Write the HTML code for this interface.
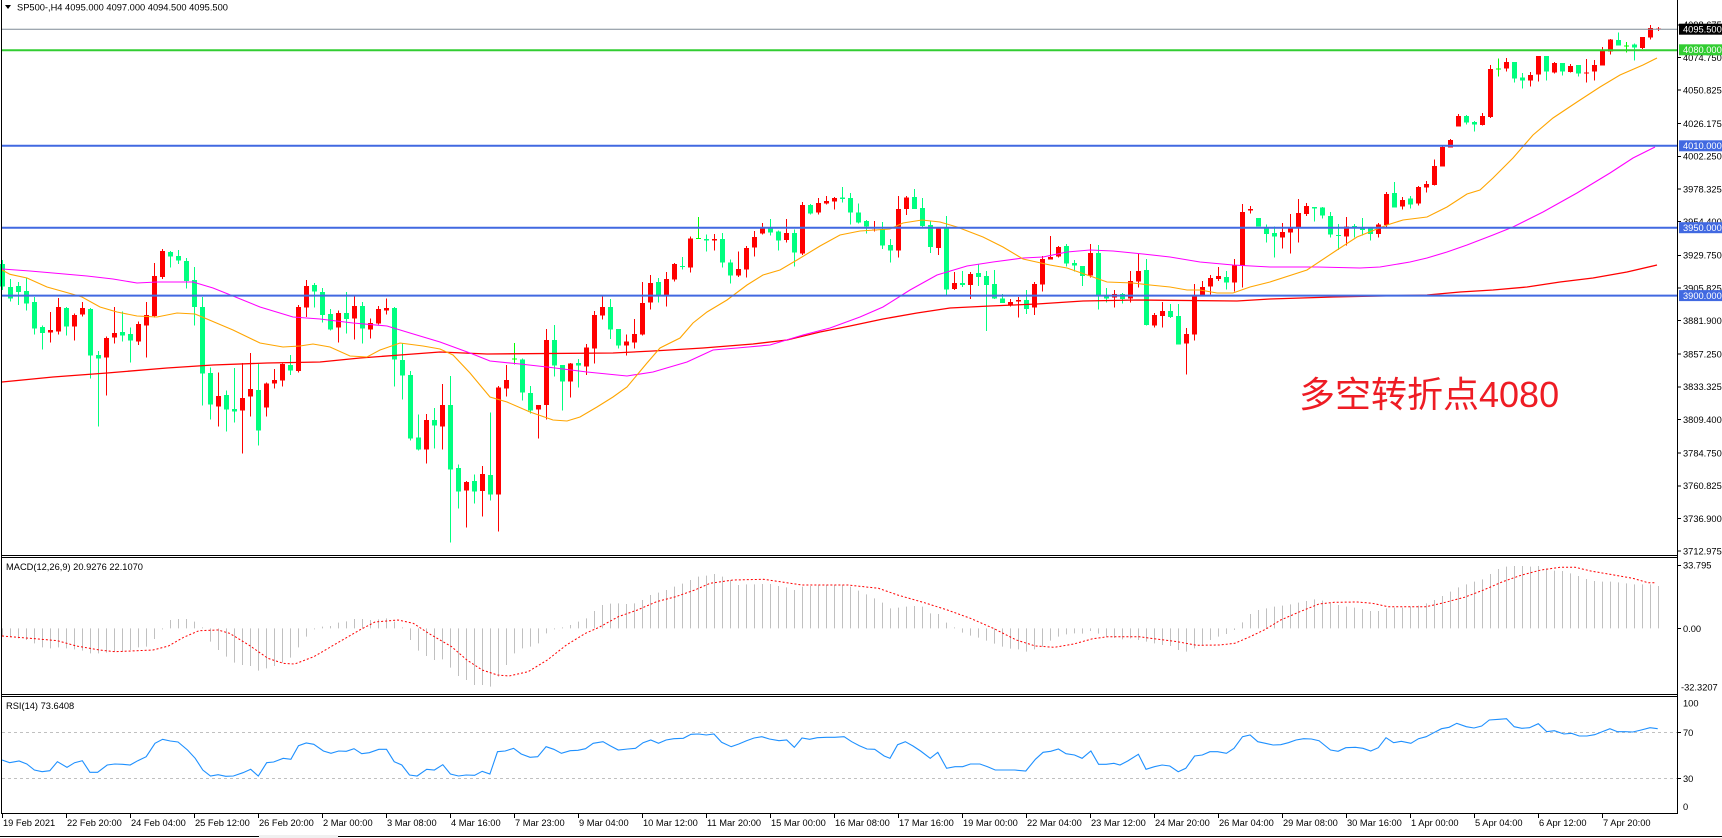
<!DOCTYPE html>
<html><head><meta charset="utf-8"><style>html,body{margin:0;padding:0;background:#fff;}svg{display:block;}</style></head>
<body>
<svg xmlns="http://www.w3.org/2000/svg" width="1722" height="838" viewBox="0 0 1722 838" font-family="'Liberation Sans', sans-serif" font-size="9.3">
<rect x="0" y="0" width="1722" height="838" fill="#fff"/>

<!-- header -->
<polygon points="5,5 11,5 8,9" fill="#000"/>
<text x="17" y="10.3" fill="#000">SP500-,H4  4095.000 4097.000 4094.500 4095.500</text>

<!-- candles group A (bars 0-52) -->
<g transform="translate(0,180) scale(1,0.333333)" shape-rendering="crispEdges">
<path fill="#00FF7F" d="M0 252h5V320h-5Z M2 240h1V330h-1Z M8 321h5V356h-5Z M10 297h1V365h-1Z M16 318h5V336h-5Z M18 306h1V375h-1Z M24 333h5V371h-5Z M26 292h1V392h-1Z M32 366h5V446h-5Z M34 351h1V463h-1Z M40 441h5V459h-5Z M42 436h1V509h-1Z M64 384h5V440h-5Z M66 381h1V467h-1Z M88 387h5V527h-5Z M90 384h1V596h-1Z M96 525h5V536h-5Z M98 513h1V740h-1Z M120 456h5V467h-5Z M122 394h1V485h-1Z M128 462h5V482h-5Z M130 442h1V548h-1Z M168 216h5V230h-5Z M170 213h1V263h-1Z M176 228h5V242h-5Z M178 210h1V252h-1Z M184 243h5V303h-5Z M186 234h1V326h-1Z M192 300h5V381h-5Z M194 261h1V437h-1Z M200 381h5V581h-5Z M202 351h1V677h-1Z M208 579h5V674h-5Z M210 563h1V719h-1Z M224 645h5V689h-5Z M226 632h1V755h-1Z M232 687h5V695h-5Z M234 564h1V728h-1Z M256 630h5V752h-5Z M258 552h1V797h-1Z M288 555h5V572h-5Z M290 525h1V585h-1Z M312 315h5V335h-5Z M314 309h1V383h-1Z M320 336h5V405h-5Z M322 324h1V428h-1Z M328 402h5V449h-5Z M330 387h1V452h-1Z M344 399h5V417h-5Z M346 336h1V461h-1Z M360 378h5V446h-5Z M362 366h1V491h-1Z M392 384h5V539h-5Z M394 381h1V620h-1Z M400 540h5V587h-5Z M402 489h1V659h-1Z M408 585h5V776h-5Z M410 573h1V782h-1Z M416 773h5V809h-5Z M418 704h1V812h-1Z"/>
<path fill="#FF0000" d="M48 450h5V458h-5Z M50 396h1V488h-1Z M56 381h5V455h-5Z M58 354h1V464h-1Z M72 405h5V440h-5Z M74 400h1V482h-1Z M80 384h5V404h-5Z M82 366h1V410h-1Z M104 474h5V533h-5Z M106 470h1V647h-1Z M112 459h5V473h-5Z M114 381h1V491h-1Z M136 432h5V485h-5Z M138 425h1V495h-1Z M144 405h5V437h-5Z M146 366h1V533h-1Z M152 288h5V408h-5Z M154 249h1V412h-1Z M160 213h5V291h-5Z M162 207h1V297h-1Z M216 648h5V680h-5Z M218 578h1V740h-1Z M240 654h5V692h-5Z M242 549h1V821h-1Z M248 627h5V650h-5Z M250 519h1V710h-1Z M264 611h5V683h-5Z M266 608h1V710h-1Z M272 600h5V611h-5Z M274 567h1V626h-1Z M280 552h5V602h-5Z M282 550h1V620h-1Z M296 381h5V573h-5Z M298 375h1V578h-1Z M304 318h5V383h-5Z M306 300h1V411h-1Z M336 399h5V443h-5Z M338 392h1V488h-1Z M352 378h5V416h-5Z M354 350h1V479h-1Z M368 429h5V449h-5Z M370 416h1V476h-1Z M376 387h5V431h-5Z M378 378h1V434h-1Z M384 384h5V392h-5Z M386 356h1V404h-1Z"/>
</g>

<!-- candles group B (bars 53-157) -->
<g transform="translate(0,160) scale(1,0.333333)" shape-rendering="crispEdges">
<path fill="#00FF7F" d="M432 780h5V797h-5Z M434 744h1V866h-1Z M448 735h5V929h-5Z M450 648h1V1148h-1Z M456 924h5V995h-5Z M458 914h1V1046h-1Z M472 963h5V995h-5Z M474 944h1V1031h-1Z M488 945h5V1004h-5Z M490 758h1V1022h-1Z M520 599h5V698h-5Z M522 595h1V722h-1Z M528 699h5V752h-5Z M530 678h1V760h-1Z M552 540h5V617h-5Z M554 495h1V650h-1Z M560 615h5V665h-5Z M562 615h1V752h-1Z M576 609h5V617h-5Z M578 597h1V683h-1Z M608 441h5V509h-5Z M610 417h1V537h-1Z M616 507h5V557h-5Z M618 507h1V566h-1Z M656 366h5V406h-5Z M658 354h1V428h-1Z M680 318h5V321h-5Z M682 291h1V329h-1Z M704 237h5V242h-5Z M706 224h1V275h-1Z M720 237h5V308h-5Z M722 219h1V323h-1Z M728 308h5V347h-5Z M730 299h1V371h-1Z M768 206h5V218h-5Z M770 177h1V227h-1Z M776 215h5V242h-5Z M778 212h1V272h-1Z M792 219h5V278h-5Z M794 209h1V320h-1Z M808 135h5V160h-5Z M810 132h1V164h-1Z M840 112h5V117h-5Z M842 81h1V128h-1Z M848 114h5V158h-5Z M850 99h1V194h-1Z M856 158h5V188h-5Z M858 131h1V190h-1Z M864 183h5V200h-5Z M866 180h1V221h-1Z M880 207h5V257h-5Z M882 186h1V267h-1Z M888 255h5V272h-5Z M890 237h1V308h-1Z M912 111h5V147h-5Z M914 87h1V147h-1Z M920 144h5V198h-5Z M922 114h1V201h-1Z M928 195h5V261h-5Z M930 183h1V279h-1Z M944 205h5V389h-5Z M946 168h1V407h-1Z M960 369h5V375h-5Z M962 333h1V381h-1Z M976 339h5V351h-5Z M978 312h1V378h-1Z M984 348h5V375h-5Z M986 333h1V513h-1Z M992 372h5V416h-5Z M994 330h1V417h-1Z M1000 416h5V429h-5Z M1002 402h1V429h-1Z M1024 420h5V447h-5Z M1026 390h1V462h-1Z M1064 258h5V311h-5Z M1066 252h1V320h-1Z M1072 309h5V317h-5Z M1074 300h1V335h-1Z M1080 318h5V348h-5Z M1082 318h1V378h-1Z M1096 279h5V407h-5Z M1098 255h1V449h-1Z M1104 408h5V416h-5Z M1106 384h1V428h-1Z M1120 402h5V417h-5Z M1122 399h1V431h-1Z M1144 330h5V495h-5Z M1146 297h1V497h-1Z M1168 453h5V471h-5Z M1170 432h1V474h-1Z M1176 468h5V554h-5Z M1178 432h1V554h-1Z M1224 351h5V368h-5Z M1226 333h1V389h-1Z M1256 174h5V200h-5Z M1258 174h1V200h-1Z"/>
<path fill="#00FF00" d="M512 595h5V599h-5Z M514 549h1V614h-1Z M696 234h5V237h-5Z M698 171h1V237h-1Z"/>
<path fill="#FF0000" d="M424 780h5V868h-5Z M426 762h1V911h-1Z M440 735h5V800h-5Z M442 672h1V868h-1Z M464 966h5V992h-5Z M466 963h1V1103h-1Z M480 942h5V993h-5Z M482 918h1V1070h-1Z M496 683h5V1004h-5Z M498 678h1V1115h-1Z M504 660h5V686h-5Z M506 615h1V710h-1Z M536 735h5V749h-5Z M538 735h1V836h-1Z M544 540h5V735h-5Z M546 507h1V778h-1Z M568 611h5V665h-5Z M570 609h1V713h-1Z M584 563h5V620h-5Z M586 552h1V645h-1Z M592 465h5V566h-5Z M594 453h1V611h-1Z M600 441h5V467h-5Z M602 408h1V479h-1Z M624 545h5V557h-5Z M626 524h1V587h-1Z M632 522h5V548h-5Z M634 477h1V566h-1Z M640 429h5V524h-5Z M642 366h1V527h-1Z M648 369h5V428h-5Z M650 345h1V449h-1Z M664 357h5V405h-5Z M666 336h1V440h-1Z M672 312h5V359h-5Z M674 309h1V365h-1Z M688 236h5V323h-5Z M690 230h1V338h-1Z M712 237h5V242h-5Z M714 222h1V272h-1Z M736 327h5V347h-5Z M738 275h1V351h-1Z M744 264h5V329h-5Z M746 258h1V353h-1Z M752 231h5V263h-5Z M754 213h1V290h-1Z M760 206h5V221h-5Z M762 189h1V224h-1Z M784 219h5V240h-5Z M786 177h1V248h-1Z M800 135h5V280h-5Z M802 126h1V285h-1Z M816 129h5V157h-5Z M818 114h1V163h-1Z M824 123h5V131h-5Z M826 108h1V134h-1Z M832 114h5V125h-5Z M834 111h1V149h-1Z M872 208h5V211h-5Z M874 183h1V215h-1Z M896 147h5V272h-5Z M898 108h1V293h-1Z M904 113h5V147h-5Z M906 108h1V165h-1Z M936 206h5V264h-5Z M938 204h1V285h-1Z M952 369h5V387h-5Z M954 336h1V390h-1Z M968 342h5V375h-5Z M970 336h1V417h-1Z M1008 426h5V437h-5Z M1010 417h1V440h-1Z M1016 420h5V425h-5Z M1018 411h1V473h-1Z M1032 372h5V443h-5Z M1034 366h1V465h-1Z M1040 297h5V374h-5Z M1042 288h1V395h-1Z M1048 291h5V299h-5Z M1050 228h1V299h-1Z M1056 261h5V290h-5Z M1058 258h1V293h-1Z M1088 279h5V347h-5Z M1090 252h1V353h-1Z M1112 402h5V412h-5Z M1114 390h1V443h-1Z M1128 363h5V416h-5Z M1130 333h1V428h-1Z M1136 333h5V365h-5Z M1138 282h1V383h-1Z M1152 465h5V497h-5Z M1154 459h1V503h-1Z M1160 453h5V468h-5Z M1162 426h1V503h-1Z M1184 522h5V551h-5Z M1186 504h1V644h-1Z M1192 408h5V524h-5Z M1194 372h1V542h-1Z M1200 381h5V406h-5Z M1202 363h1V408h-1Z M1208 354h5V380h-5Z M1210 345h1V404h-1Z M1216 348h5V357h-5Z M1218 321h1V363h-1Z M1232 317h5V368h-5Z M1234 297h1V395h-1Z M1240 156h5V317h-5Z M1242 132h1V383h-1Z M1248 147h5V152h-5Z M1250 138h1V161h-1Z"/>
</g>

<!-- candles group C (bars 158-207) -->
<g transform="translate(0,15) scale(1,0.333333)" shape-rendering="crispEdges">
<path fill="#00FF7F" d="M1264 637h5V657h-5Z M1266 628h1V683h-1Z M1272 654h5V665h-5Z M1274 634h1V728h-1Z M1312 576h5V580h-5Z M1314 576h1V620h-1Z M1320 578h5V602h-5Z M1322 576h1V611h-1Z M1328 603h5V659h-5Z M1330 591h1V668h-1Z M1336 660h5V663h-5Z M1338 627h1V705h-1Z M1352 633h5V636h-5Z M1354 627h1V668h-1Z M1360 639h5V645h-5Z M1362 609h1V662h-1Z M1368 641h5V657h-5Z M1370 639h1V677h-1Z M1392 534h5V578h-5Z M1394 501h1V578h-1Z M1408 551h5V569h-5Z M1410 543h1V581h-1Z M1464 303h5V323h-5Z M1466 300h1V329h-1Z M1472 321h5V329h-5Z M1474 318h1V350h-1Z M1512 141h5V191h-5Z M1514 141h1V203h-1Z M1520 188h5V196h-5Z M1522 174h1V221h-1Z M1544 123h5V170h-5Z M1546 123h1V197h-1Z M1560 144h5V170h-5Z M1562 144h1V182h-1Z M1576 150h5V176h-5Z M1578 150h1V185h-1Z M1616 75h5V92h-5Z M1618 53h1V92h-1Z M1632 89h5V98h-5Z M1634 86h1V137h-1Z"/>
<path fill="#00FF00" d="M1496 161h5V164h-5Z M1498 131h1V185h-1Z M1624 91h5V94h-5Z M1626 81h1V113h-1Z"/>
<path fill="#FF0000" d="M1280 651h5V668h-5Z M1282 624h1V701h-1Z M1288 641h5V653h-5Z M1290 597h1V716h-1Z M1296 594h5V636h-5Z M1298 552h1V683h-1Z M1304 573h5V597h-5Z M1306 564h1V603h-1Z M1344 634h5V664h-5Z M1346 606h1V692h-1Z M1376 628h5V657h-5Z M1378 624h1V668h-1Z M1384 537h5V630h-5Z M1386 531h1V636h-1Z M1400 555h5V575h-5Z M1402 546h1V584h-1Z M1416 516h5V566h-5Z M1418 513h1V572h-1Z M1424 507h5V518h-5Z M1426 498h1V532h-1Z M1432 453h5V510h-5Z M1434 434h1V512h-1Z M1440 396h5V455h-5Z M1442 393h1V455h-1Z M1448 375h5V398h-5Z M1450 372h1V398h-1Z M1456 303h5V335h-5Z M1458 297h1V335h-1Z M1480 303h5V330h-5Z M1482 294h1V332h-1Z M1488 162h5V306h-5Z M1490 150h1V309h-1Z M1504 141h5V161h-5Z M1506 129h1V170h-1Z M1528 180h5V197h-5Z M1530 171h1V215h-1Z M1536 123h5V179h-5Z M1538 123h1V200h-1Z M1552 144h5V173h-5Z M1554 141h1V176h-1Z M1568 153h5V171h-5Z M1570 147h1V173h-1Z M1584 172h5V175h-5Z M1586 132h1V203h-1Z M1592 150h5V170h-5Z M1594 135h1V197h-1Z M1600 107h5V152h-5Z M1602 96h1V152h-1Z M1608 74h5V110h-5Z M1610 72h1V119h-1Z M1640 66h5V99h-5Z M1642 66h1V102h-1Z M1648 39h5V68h-5Z M1650 30h1V74h-1Z M1656 41h5V44h-5Z M1658 36h1V48h-1Z"/>
</g>

<!-- moving averages -->
<polyline fill="none" stroke="#FF0000" stroke-width="1.3" points="2,382 53,377 107,373 167,368 213,365 267,363 320,362 360,358 400,355 440,352 487,354 613,353 653,351 703,348 753,344 787,340 820,332 850,326 883,319 917,313 950,308 990,306 1037,304 1083,301 1137,300 1237,301 1270,299 1333,297 1427,295 1460,292 1493,290 1527,287 1560,282 1593,278 1627,272 1657,265"/>
<polyline fill="none" stroke="#FF00FF" stroke-width="1.1" points="2,269 30,271 53,273 87,276 113,279 137,283 157,282 193,282 213,288 233,296 260,307 293,317 320,319 353,323 387,326 410,333 440,342 470,353 490,361 520,364 547,367 587,372 627,376 653,372 687,362 713,350 737,348 770,345 803,335 830,328 860,317 883,307 910,290 937,275 967,266 993,262 1023,258 1043,257 1067,252 1090,250 1113,251 1143,254 1170,257 1200,262 1233,265 1270,267 1317,267 1360,268 1380,267 1410,262 1427,258 1447,252 1467,245 1493,235 1513,227 1543,212 1577,193 1610,173 1633,158 1655,147"/>
<polyline fill="none" stroke="#FFA500" stroke-width="1.1" points="2,270 10,274.3 27,278 47,287 72,294 82,297 100,307 117,312 137,316 157,317 177,313 195,314 207,319 233,330 260,343 283,347 300,346 313,344 330,347 350,356 367,357 380,350 400,343 423,346 440,349 453,355 470,373 490,397 507,402 530,412 553,420 567,421 580,417 597,407 613,397 627,387 647,363 660,348 680,338 693,323 707,312 727,300 747,285 763,275 780,270 797,260 820,246 840,235 860,231 890,229 903,223 922,220 940,222 957,227 983,237 1003,247 1023,259 1050,265 1067,268 1090,276 1107,282 1133,283 1150,285 1170,287 1187,290 1200,290 1217,293 1233,293 1250,287 1270,282 1307,270 1337,250 1357,237 1387,225 1403,220 1427,217 1447,207 1467,194 1480,190 1493,178 1513,158 1533,135 1553,118 1577,102 1600,87 1620,75 1643,65 1657,58"/>

<!-- horizontal levels -->
<line x1="2" y1="29.2" x2="1677" y2="29.2" stroke="#7F8A96" stroke-width="1"/>
<line x1="2" y1="50.3" x2="1677" y2="50.3" stroke="#32CD32" stroke-width="2"/>
<line x1="2" y1="145.8" x2="1677" y2="145.8" stroke="#4169E1" stroke-width="2"/>
<line x1="2" y1="227.7" x2="1677" y2="227.7" stroke="#4169E1" stroke-width="2"/>
<line x1="2" y1="295.6" x2="1677" y2="295.6" stroke="#4169E1" stroke-width="2"/>

<!-- annotation -->
<text x="1299" y="407" font-size="36" fill="#EE1C24" font-family="'Liberation Sans','Noto Sans CJK SC',sans-serif">多空转折点4080</text>

<!-- MACD -->
<text x="6" y="570" fill="#000">MACD(12,26,9) 20.9276 22.1070</text>
<g transform="translate(0,540) scale(1,0.333333)">
<path fill="none" stroke="#C0C0C0" stroke-width="1" d="M2.5 265V290M10.5 265V292M18.5 265V295M26.5 265V300M34.5 265V310M42.5 265V322M50.5 265V325M58.5 265V322M66.5 265V325M74.5 265V328M82.5 265V332M90.5 265V340M98.5 265V340M106.5 265V338M114.5 265V336M122.5 265V335M130.5 265V330M138.5 265V322M146.5 265V320M154.5 265V297M162.5 265V268M170.5 265V240M178.5 265V237M186.5 265V237M194.5 265V245M202.5 265V262M210.5 265V305M218.5 265V330M226.5 265V350M234.5 265V368M242.5 265V375M250.5 265V378M258.5 265V392M266.5 265V385M274.5 265V378M282.5 265V368M290.5 265V353M298.5 265V322M306.5 265V290M314.5 265V268M322.5 265V260M330.5 265V258M338.5 265V248M346.5 265V244M354.5 265V237M362.5 265V237M370.5 265V240M378.5 265V238M386.5 265V235M394.5 265V245M402.5 265V262M410.5 265V300M418.5 265V332M426.5 265V348M434.5 265V360M442.5 265V358M450.5 265V383M458.5 265V408M466.5 265V420M474.5 265V435M482.5 265V435M490.5 265V440M498.5 265V410M506.5 265V375M514.5 265V340M522.5 265V325M530.5 265V320M538.5 265V310M546.5 265V280M554.5 265V268M562.5 265V262M570.5 265V255M578.5 265V245M586.5 265V235M594.5 265V213M602.5 265V195M610.5 265V191M618.5 265V190M626.5 265V192M634.5 265V190M642.5 265V180M650.5 265V165M658.5 265V158M666.5 265V150M674.5 265V140M682.5 265V131M690.5 265V120M698.5 265V110M706.5 265V107M714.5 265V102M722.5 265V110M730.5 265V120M738.5 265V135M746.5 265V133M754.5 265V133M762.5 265V132M770.5 265V132M778.5 265V138M786.5 265V142M794.5 265V150M802.5 265V140M810.5 265V138M818.5 265V136M826.5 265V135M834.5 265V135M842.5 265V135M850.5 265V140M858.5 265V152M866.5 265V163M874.5 265V175M882.5 265V188M890.5 265V205M898.5 265V203M906.5 265V200M914.5 265V198M922.5 265V200M930.5 265V220M938.5 265V222M946.5 265V248M954.5 265V262M962.5 265V278M970.5 265V287M978.5 265V293M986.5 265V302M994.5 265V311M1002.5 265V320M1010.5 265V326M1018.5 265V328M1026.5 265V335M1034.5 265V328M1042.5 265V320M1050.5 265V302M1058.5 265V290M1066.5 265V283M1074.5 265V280M1082.5 265V281M1090.5 265V273M1098.5 265V281M1106.5 265V290M1114.5 265V294M1122.5 265V298M1130.5 265V295M1138.5 265V300M1146.5 265V305M1154.5 265V310M1162.5 265V315M1170.5 265V318M1178.5 265V330M1186.5 265V335M1194.5 265V325M1202.5 265V317M1210.5 265V300M1218.5 265V290M1226.5 265V282M1234.5 265V270M1242.5 265V247M1250.5 265V222M1258.5 265V210M1266.5 265V205M1274.5 265V200M1282.5 265V197M1290.5 265V193M1298.5 265V188M1306.5 265V183M1314.5 265V178M1322.5 265V182M1330.5 265V190M1338.5 265V195M1346.5 265V200M1354.5 265V203M1362.5 265V207M1370.5 265V213M1378.5 265V213M1386.5 265V205M1394.5 265V203M1402.5 265V203M1410.5 265V200M1418.5 265V197M1426.5 265V190M1434.5 265V180M1442.5 265V168M1450.5 265V155M1458.5 265V142M1466.5 265V133M1474.5 265V125M1482.5 265V118M1490.5 265V102M1498.5 265V87M1506.5 265V80M1514.5 265V78M1522.5 265V78M1530.5 265V80M1538.5 265V78M1546.5 265V85M1554.5 265V92M1562.5 265V93M1570.5 265V100M1578.5 265V108M1586.5 265V117M1594.5 265V123M1602.5 265V125M1610.5 265V125M1618.5 265V127M1626.5 265V130M1634.5 265V133M1642.5 265V133M1650.5 265V133M1658.5 265V138"/>
</g>
<polyline fill="none" stroke="#FF0000" stroke-width="1" stroke-dasharray="2 2" points="2,636 38.3,639 57.4,640.7 76.5,646 99.5,650 114.8,651.7 153,650 168.4,646 183.7,637.3 199,630.7 218.1,630 229.6,633.3 248.8,645 267.9,658.3 283.2,663.3 294.7,664 313.8,656.7 336.8,643.3 359.7,630 375,622 398,620 413.3,623.3 428.6,633.3 451.6,646.7 466.9,660 482.2,670 497.5,675 509,676 528.1,671.7 547.3,660 566.4,645 585.5,633.3 599.1,627.3 618.3,616.7 637.4,610 656.5,601.7 675.7,596.7 694.8,590 710.1,583.3 733.1,580 763.7,579.3 786.7,582.7 802,585 847.9,585 878.5,588.3 897.6,595 924.4,602.7 947.4,610 970.4,618.3 993.3,628.3 1016.3,640 1035.4,646 1054.6,647.3 1073.7,644 1092.8,638.7 1108.1,636.7 1139.1,636.7 1158.3,639.3 1177.4,641.7 1196.5,645.3 1219.5,645 1234.8,643.3 1250.1,636.7 1265.4,629.3 1280.7,620 1299.9,611.7 1319,604 1334.3,602.3 1357.3,602 1372.6,603.3 1387.9,606.7 1426.2,606.7 1441.5,603.3 1464.4,597.3 1483.6,590 1502.7,581.7 1521.8,575 1541,570 1560.1,567.3 1575.4,567.3 1590.7,571 1609.9,574.3 1632.8,578.3 1648.1,582.7 1655.8,582.7"/>

<!-- RSI -->
<text x="6" y="709" fill="#000">RSI(14) 73.6408</text>
<line x1="2" y1="732.5" x2="1677" y2="732.5" stroke="#C0C0C0" stroke-width="1" stroke-dasharray="3 3"/>
<line x1="2" y1="778.5" x2="1677" y2="778.5" stroke="#C0C0C0" stroke-width="1" stroke-dasharray="3 3"/>
<polyline fill="none" stroke="#1E90FF" stroke-width="1.1" points="2,760 9.6,762.7 19.1,761 26.8,764 34.4,770 42.1,771.7 49.8,770.7 57.4,761.7 67,767.3 74.6,762.7 82.3,760.7 89.9,772.3 97.6,772.3 107.2,765 114.8,764 122.5,764.3 130.1,765 137.8,760.7 146.2,756.7 155,743.3 162.6,739.3 170.3,741 178,742 187.5,750 195.2,758.3 202.8,770 210.5,776 218.1,774.7 225.8,776.3 233.4,776 243,772.7 250.7,769.3 258.3,776 266.7,762.7 273.6,762 283.2,758.3 290.9,759.3 298.5,745.7 306.2,743 313.8,744.3 323.4,751 331,753.3 338.7,751 346.3,751.3 354,748.7 361.7,753.7 369.3,752.7 378.9,749.3 386.5,749.3 394.2,761.7 401.8,765 409.5,775 417.1,776 426.7,769.3 434.4,770 442.8,764.7 450.4,774 458.5,776 466.1,775 474.6,775.3 482.2,771.3 489.9,774 497.5,751.7 505.2,751 513.6,748.3 521.2,754 530,757.3 537.7,756.7 546.1,746.7 553.8,749.3 561.4,753.3 570.2,750.7 577.9,750.3 585.5,748.7 593.2,743.3 603,741.7 610.6,746 618.3,750 627.8,749 635.5,748.3 643.1,742.7 650.8,740 658.5,743.3 666.1,740 673.8,738.7 683.3,738.3 691,734.3 698.6,734 706.3,735 713.9,734 721.6,742.3 731.2,746.7 738.8,744 746.5,740.7 754.1,738 761.8,736.7 769.4,739 779,740.7 786.7,740 794.3,747.3 802,738 809.6,739.3 817.3,737.7 826.8,737.3 834.5,737.3 844.1,736.7 851.7,741.7 859.4,745.7 867,749 874.7,749.3 884.2,756 890,758.3 897.6,744.7 905.3,741.7 913,746 920.6,751 930.2,758.3 937.8,752.3 946.6,768.3 955,766.7 962.7,766.7 970.4,764 979.9,764 987.6,766.7 995.2,770 1004.8,770 1014.4,770 1025.8,771 1035.4,759.3 1043.1,752.3 1050.7,751.3 1058.4,749 1066,753.7 1074.5,755 1082.1,758.3 1090.9,751 1098.6,764.3 1106.2,764.3 1113.9,763.3 1120,765 1127.7,761 1138.4,754.3 1146,769.3 1154.4,766.7 1162.1,765 1169.8,766 1178.2,771.7 1185.8,768.3 1194.6,756 1202.3,755 1209.9,751.7 1217.6,751.7 1226.4,753.3 1234,748.3 1242.5,736.7 1250.1,735 1257.8,741.7 1265.4,743.3 1273.1,745 1280.7,744.7 1288.4,742.7 1296,740 1303.7,738.7 1311.4,739 1319,740.7 1330.5,750 1338.1,751.3 1345.8,747.7 1355.4,747.3 1363,748.3 1370.7,751 1378.3,747.7 1386,737.7 1393.6,742.7 1401.3,741.3 1410.9,743.3 1418.5,738.7 1426.2,736.7 1433.8,732.7 1441.5,728.7 1449.1,727.3 1456.8,723.3 1466.3,726.7 1474,728 1481.7,726 1489.3,720 1498.9,719.3 1506.5,718.7 1514.2,726.7 1521.8,728.3 1529.5,727.7 1538.3,723.7 1546.7,731.7 1554.4,730.7 1563.9,734 1571.6,733.3 1579.2,736 1586.9,736 1594.6,734.7 1602.2,731.7 1609.9,728.7 1617.5,731.7 1625.2,731.7 1632.8,732 1641.2,730 1650,727.7 1657.7,728.7"/>

<!-- panel borders -->
<g stroke="#000" stroke-width="1" shape-rendering="crispEdges">
<line x1="1.5" y1="0" x2="1.5" y2="814"/>
<line x1="1677.5" y1="0" x2="1677.5" y2="814"/>
<line x1="1" y1="555.5" x2="1678" y2="555.5"/>
<line x1="1" y1="557.5" x2="1678" y2="557.5"/>
<line x1="1" y1="694.5" x2="1678" y2="694.5"/>
<line x1="1" y1="696.5" x2="1678" y2="696.5"/>
<line x1="1" y1="813.5" x2="1678" y2="813.5"/>
<path d="M1677 24.8h4M1677 57.5h4M1677 90.1h4M1677 123.7h4M1677 156.4h4M1677 189h4M1677 221.7h4M1677 255.3h4M1677 288h4M1677 320.6h4M1677 354.2h4M1677 386.9h4M1677 419.5h4M1677 453.2h4M1677 485.8h4M1677 518.5h4M1677 551.1h4M1677 565.5h4M1677 628.5h4M1677 732.5h4M1677 778.5h4"/>
<path d="M2.5 814v4M66.5 814v4M130.5 814v4M194.5 814v4M258.5 814v4M322.5 814v4M386.5 814v4M450.5 814v4M514.5 814v4M578.5 814v4M642.5 814v4M706.5 814v4M770.5 814v4M834.5 814v4M898.5 814v4M962.5 814v4M1026.5 814v4M1090.5 814v4M1154.5 814v4M1218.5 814v4M1282.5 814v4M1346.5 814v4M1410.5 814v4M1474.5 814v4M1538.5 814v4M1602.5 814v4"/>
<line x1="0" y1="836.5" x2="259" y2="836.5"/>
<line x1="338" y1="836.5" x2="1722" y2="836.5"/>
</g>
<rect x="259" y="835" width="79" height="3" fill="#F0F0F0"/>

<!-- price axis labels -->
<g fill="#000">
<text x="1683" y="28.1">4098.675</text>
<text x="1683" y="60.8">4074.750</text>
<text x="1683" y="93.4">4050.825</text>
<text x="1683" y="127">4026.175</text>
<text x="1683" y="159.7">4002.250</text>
<text x="1683" y="192.3">3978.325</text>
<text x="1683" y="225">3954.400</text>
<text x="1683" y="258.6">3929.750</text>
<text x="1683" y="291.3">3905.825</text>
<text x="1683" y="323.9">3881.900</text>
<text x="1683" y="357.5">3857.250</text>
<text x="1683" y="390.2">3833.325</text>
<text x="1683" y="422.8">3809.400</text>
<text x="1683" y="456.5">3784.750</text>
<text x="1683" y="489.1">3760.825</text>
<text x="1683" y="521.8">3736.900</text>
<text x="1683" y="554.4">3712.975</text>
<text x="1683" y="568.5">33.795</text>
<text x="1683" y="631.8">0.00</text>
<text x="1681" y="690.5">-32.3207</text>
<text x="1683" y="706.5">100</text>
<text x="1683" y="735.8">70</text>
<text x="1683" y="781.8">30</text>
<text x="1683" y="810">0</text>
</g>

<!-- price tags -->
<rect x="1679" y="23.7" width="43" height="11" fill="#000"/>
<text x="1683" y="32.5" fill="#fff">4095.500</text>
<rect x="1679" y="44.3" width="43" height="11" fill="#32CD32"/>
<text x="1683" y="53.1" fill="#fff">4080.000</text>
<rect x="1679" y="140.3" width="43" height="11" fill="#4169E1"/>
<text x="1683" y="149.1" fill="#fff">4010.000</text>
<rect x="1679" y="222.2" width="43" height="11" fill="#4169E1"/>
<text x="1683" y="231" fill="#fff">3950.000</text>
<rect x="1679" y="290.1" width="43" height="11" fill="#4169E1"/>
<text x="1683" y="298.9" fill="#fff">3900.000</text>

<!-- time labels -->
<g fill="#000">
<text x="3" y="826">19 Feb 2021</text>
<text x="67" y="826">22 Feb 20:00</text>
<text x="131" y="826">24 Feb 04:00</text>
<text x="195" y="826">25 Feb 12:00</text>
<text x="259" y="826">26 Feb 20:00</text>
<text x="323" y="826">2 Mar 00:00</text>
<text x="387" y="826">3 Mar 08:00</text>
<text x="451" y="826">4 Mar 16:00</text>
<text x="515" y="826">7 Mar 23:00</text>
<text x="579" y="826">9 Mar 04:00</text>
<text x="643" y="826">10 Mar 12:00</text>
<text x="707" y="826">11 Mar 20:00</text>
<text x="771" y="826">15 Mar 00:00</text>
<text x="835" y="826">16 Mar 08:00</text>
<text x="899" y="826">17 Mar 16:00</text>
<text x="963" y="826">19 Mar 00:00</text>
<text x="1027" y="826">22 Mar 04:00</text>
<text x="1091" y="826">23 Mar 12:00</text>
<text x="1155" y="826">24 Mar 20:00</text>
<text x="1219" y="826">26 Mar 04:00</text>
<text x="1283" y="826">29 Mar 08:00</text>
<text x="1347" y="826">30 Mar 16:00</text>
<text x="1411" y="826">1 Apr 00:00</text>
<text x="1475" y="826">5 Apr 04:00</text>
<text x="1539" y="826">6 Apr 12:00</text>
<text x="1603" y="826">7 Apr 20:00</text>
</g>
</svg>
</body></html>
